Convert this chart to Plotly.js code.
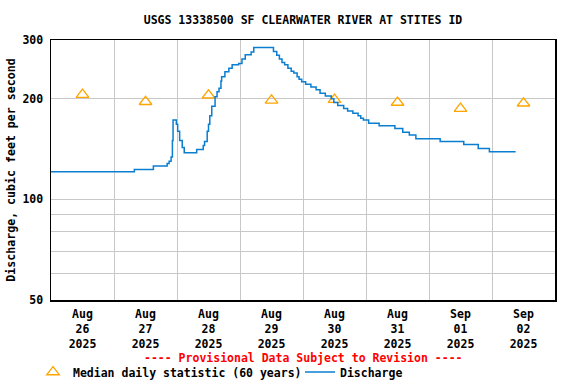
<!DOCTYPE html>
<html>
<head>
<meta charset="utf-8">
<script src="https://cdn.plot.ly/plotly-3.0.1.min.js"></script>
<style>html,body{margin:0;padding:0;background:#fff}#chart{width:576px;height:384px}</style>
</head>
<body>
<div id="chart"></div>
<script>
const dischargeTimes = [
  "2025-08-26 00:00","2025-08-27 07:45","2025-08-27 15:00","2025-08-27 20:15","2025-08-27 21:00",
  "2025-08-27 21:45","2025-08-27 22:15","2025-08-27 22:30","2025-08-27 23:45","2025-08-28 00:15",
  "2025-08-28 01:00","2025-08-28 02:00","2025-08-28 02:45","2025-08-28 07:30","2025-08-28 10:00",
  "2025-08-28 10:30","2025-08-28 11:30","2025-08-28 12:00","2025-08-28 12:30","2025-08-28 13:15",
  "2025-08-28 14:30","2025-08-28 15:15","2025-08-28 16:00","2025-08-28 16:45","2025-08-28 17:00",
  "2025-08-28 18:15","2025-08-28 19:45","2025-08-28 21:00","2025-08-28 23:30","2025-08-29 00:45",
  "2025-08-29 02:00","2025-08-29 04:15","2025-08-29 05:15","2025-08-29 12:45","2025-08-29 14:00",
  "2025-08-29 15:00","2025-08-29 16:00","2025-08-29 17:00","2025-08-29 18:15","2025-08-29 19:30",
  "2025-08-29 20:30","2025-08-29 21:45","2025-08-29 22:30","2025-08-29 23:30","2025-08-30 01:00",
  "2025-08-30 03:00","2025-08-30 05:00","2025-08-30 06:30","2025-08-30 08:30","2025-08-30 10:45",
  "2025-08-30 11:45","2025-08-30 13:15","2025-08-30 15:30","2025-08-30 17:00","2025-08-30 19:00",
  "2025-08-30 21:00","2025-08-30 22:00","2025-08-30 23:00","2025-08-31 01:00","2025-08-31 05:00",
  "2025-08-31 11:00","2025-08-31 14:00","2025-08-31 16:30","2025-08-31 19:00","2025-09-01 04:15",
  "2025-09-01 13:15","2025-09-01 18:45","2025-09-01 23:00","2025-09-02 09:00"
];
const dischargeValues = [
  121,123,126,128,130,
  134,150,173,168,160,
  150,143,138,141,145,
  149,160,168,178,190,
  203,210,215,226,233,
  241,247,253,255,263,
  271,276,285,277,270,
  263,257,253,247,242,
  239,233,229,225,221,
  217,213,208,204,200,
  195,191,187,184,181,
  178,175,173,169,166,
  163,159,156,152,149,
  146,142,139,139
];
const medianDates = ["2025-08-26 12:00","2025-08-27 12:00","2025-08-28 12:00","2025-08-29 12:00",
                     "2025-08-30 12:00","2025-08-31 12:00","2025-09-01 12:00","2025-09-02 12:00"];
const medianValues = [206,196,205,198,199,195,187,194];
const tickLabels = ["Aug<br>26<br>2025","Aug<br>27<br>2025","Aug<br>28<br>2025","Aug<br>29<br>2025",
                    "Aug<br>30<br>2025","Aug<br>31<br>2025","Sep<br>01<br>2025","Sep<br>02<br>2025"];
const yTicks = [50,100,200,300];
const yMinorGrid = [60,70,80,90];

const FONT = "DejaVu Sans Mono";
const fnt = {family: FONT, size: 11.5, color: "#000", weight: "bold"};

const traces = [
  {
    x: medianDates, y: medianValues, type: "scatter", mode: "markers",
    name: "Median daily statistic (60 years)",
    marker: {symbol: "triangle-up-open", size: 11, color: "#FFA500", line: {width: 1.3, color: "#FFA500"}}
  },
  {
    x: dischargeTimes, y: dischargeValues, type: "scatter", mode: "lines",
    name: "Discharge", line: {shape: "hv", color: "#0A7ED0", width: 1.5}
  }
];

const layout = {
  width: 576, height: 384,
  margin: {l: 51, r: 21, t: 40, b: 84, autoexpand: false},
  paper_bgcolor: "#fff", plot_bgcolor: "#fff",
  font: fnt,
  title: {text: "USGS 13338500 SF CLEARWATER RIVER AT STITES ID", x: 0.5, xref: "paper",
          y: 1 - 20/384, yref: "container", yanchor: "middle", font: fnt},
  xaxis: {
    type: "date", range: ["2025-08-26 00:00", "2025-09-03 00:00"],
    tickmode: "array", tickvals: medianDates, ticktext: tickLabels,
    showgrid: false, ticks: "outside", ticklen: 3, tickcolor: "rgba(0,0,0,0)", tickfont: fnt,
    showline: true, linecolor: "#000", linewidth: 1.5, mirror: true,
    minor: {tickmode: "linear", tick0: "2025-08-26", dtick: 86400000, showgrid: true,
            gridcolor: "#C8C8C8", gridwidth: 1, ticks: ""},
    zeroline: false, fixedrange: true, automargin: false
  },
  yaxis: {
    type: "log", range: [Math.log10(50), Math.log10(300)],
    tickmode: "array", tickvals: yTicks, ticktext: yTicks.map(String),
    showgrid: true, gridcolor: "#C8C8C8", gridwidth: 1,
    ticks: "outside", ticklen: 4, tickcolor: "rgba(0,0,0,0)", tickfont: fnt,
    showline: true, linecolor: "#000", linewidth: 1.5, mirror: true,
    minor: {tickmode: "array", tickvals: yMinorGrid, showgrid: true, gridcolor: "#C8C8C8", gridwidth: 1, ticks: ""},
    title: {text: "Discharge, cubic feet per second", font: {family: FONT, size: 11.6, color: "#000", weight: "bold"}, standoff: 4},
    zeroline: false, fixedrange: true, automargin: false
  },
  showlegend: true,
  legend: {orientation: "h", x: (33 - 51)/504, xanchor: "left", y: (300-372)/260, yanchor: "middle",
           font: fnt, itemwidth: 30, entrywidth: 222, entrywidthmode: "pixels",
           tracegroupgap: 0, bgcolor: "rgba(0,0,0,0)", borderwidth: 0},
  annotations: [
    {text: "---- Provisional Data Subject to Revision ----", xref: "paper", yref: "paper",
     x: 0.5, y: (300-358)/260, xanchor: "center", yanchor: "middle", showarrow: false,
     font: {family: FONT, size: 11.5, color: "#FF0000", weight: "bold"}}
  ]
};

Plotly.newPlot("chart", traces, layout, {staticPlot: true, displayModeBar: false});
</script>
</body>
</html>
